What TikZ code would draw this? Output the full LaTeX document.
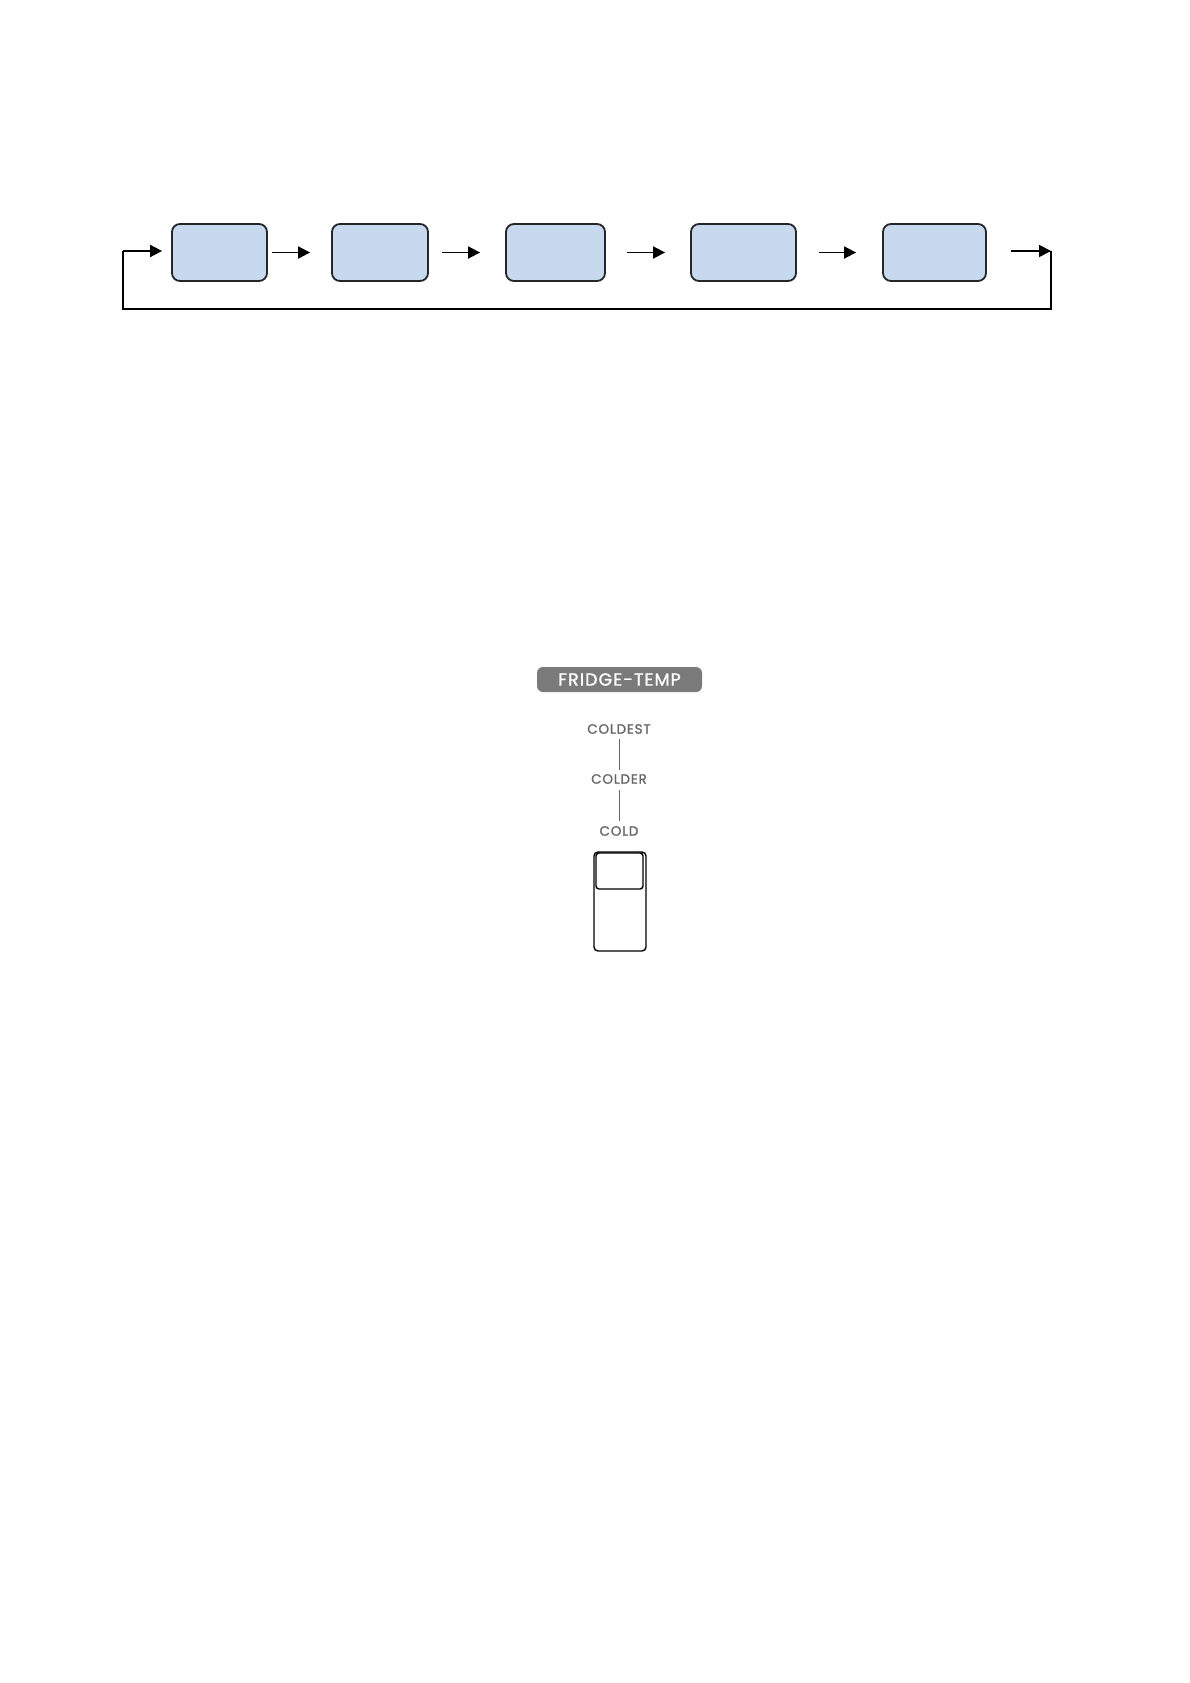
\documentclass[tikz,border=0pt]{standalone}
\usepackage{fontspec}
\setmainfont{Poppins}
\newfontfamily\spacedfont[LetterSpace=6, FakeBold=1.2]{Poppins}
\usetikzlibrary{arrows.meta}
\definecolor{boxblue}{HTML}{C6D9EF}
\definecolor{labgray}{HTML}{7A7A7A}
\definecolor{txtgray}{HTML}{666666}
\tikzset{
  flowbox/.style={draw=black!85, line width=1.8pt, fill=boxblue, rounded corners=8pt, minimum height=57pt, inner sep=0pt},
  arr/.style={line width=1.8pt, -{Triangle[length=12pt,width=12pt]}},
  loopline/.style={line width=1.3pt},
  lvl/.style={text=txtgray, font=\spacedfont\fontsize{13.5}{15}\selectfont, inner sep=0pt},
  glin/.style={draw=txtgray, line width=0.8pt}
}
\begin{document}
\begin{tikzpicture}[x=1pt,y=-1pt]
\useasboundingbox (0,0) rectangle (1190,1683);
% flow boxes
\node[flowbox, minimum width=95pt] (b1) at (219.5,252.5) {};
\node[flowbox, minimum width=96pt] (b2) at (380,252.5) {};
\node[flowbox, minimum width=99pt] (b3) at (555.5,252.5) {};
\node[flowbox, minimum width=105pt] (b4) at (743.5,252.5) {};
\node[flowbox, minimum width=103pt] (b5) at (934.5,252.5) {};
% arrows between boxes
\draw[arr, shorten <=4pt, shorten >=21pt] (b1) -- (b2);
\draw[arr, shorten <=13pt, shorten >=25pt] (b2) -- (b3);
\draw[arr, shorten <=21pt, shorten >=25pt] (b3) -- (b4);
\draw[arr, shorten <=22pt, shorten >=26pt] (b4) -- (b5);
% loop
\coordinate (c1) at (1051,251);
\coordinate (rb) at (1051,309);
\coordinate (lb) at (123,309);
\coordinate (c2) at (123,251);
\draw[arr, shorten <=24pt] (b5.east |- c1) -- (c1);
\draw[loopline] (c1) -- (rb) -- (lb) -- (c2);
\draw[arr, shorten >=9pt] (c2) -- (b1.west |- c2);
% fridge temp
\node[fill=labgray, rounded corners=6pt, minimum width=165pt, minimum height=25pt, inner sep=0pt, text=white, font=\spacedfont\fontsize{17.5}{19}\selectfont] (lab) at (619.5,679.5) {FRIDGE-TEMP};
\node[lvl] (l1) at (619,729) {COLDEST};
\node[lvl] (l2) at (619,779) {COLDER};
\node[lvl] (l3) at (619,831) {COLD};
\draw[glin] (619,739) -- (619,770);
\draw[glin] (619,790) -- (619,821);
\draw[line width=1.4pt, rounded corners=4pt] (594,852) rectangle (646,951);
\draw[line width=1.4pt, rounded corners=3pt] (596,853) rectangle (643,889);
\end{tikzpicture}
\end{document}
